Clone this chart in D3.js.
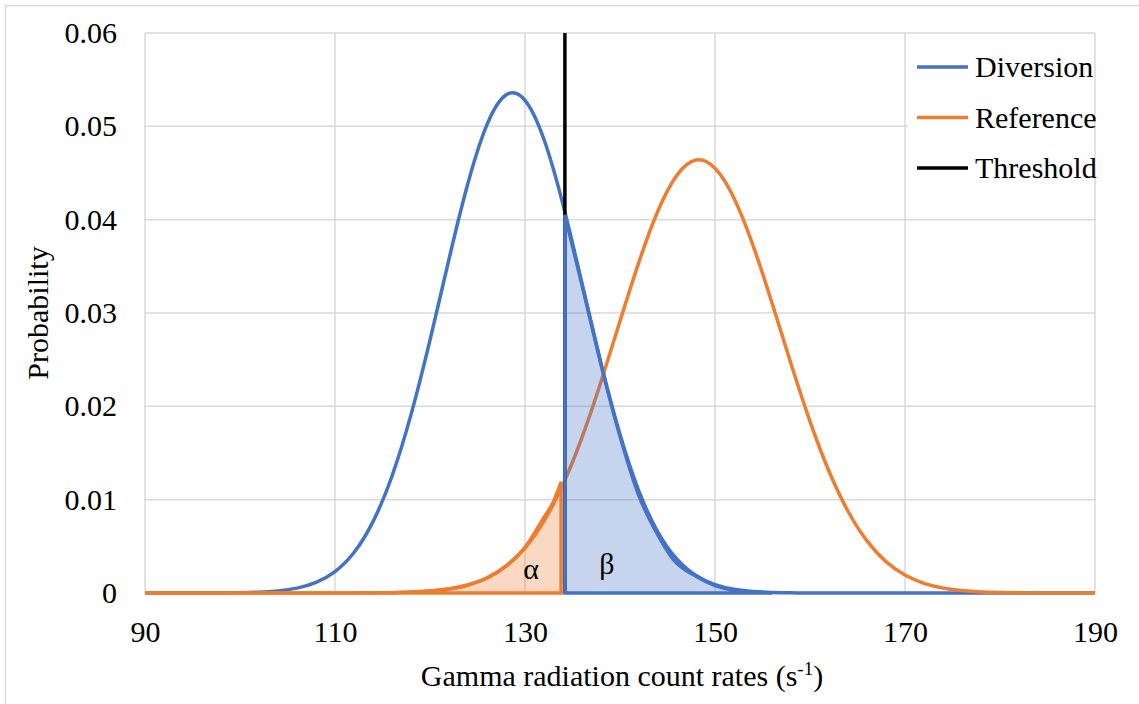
<!DOCTYPE html>
<html>
<head>
<meta charset="utf-8">
<script src="https://cdn.jsdelivr.net/npm/d3@7"></script>
<style>
  html, body { margin: 0; padding: 0; background: #fff; }
  svg { display: block; }
  svg text { font-family: "Liberation Serif", Tinos, "Times New Roman", Times, "DejaVu Serif", "Noto Serif", serif; fill: #000; }
</style>
</head>
<body>
<svg id="chart" width="1139" height="704"></svg>
<script>
// ---------------- data ----------------
const countRates = [90,92,94,96,98,100,102,104,106,108,110,112,114,116,118,120,122,124,126,128,130,132,134,136,138,140,142,144,146,148,150,152,154,156,158,160,162,164,166,168,170,172,174,176,178,180,182,184,186,188,190];
const diversion = [0,0,0.000001,0.000004,0.000012,0.000032,0.000087,0.00022,0.00052,0.00113,0.0023,0.00434,0.00765,0.01253,0.01911,0.0271,0.03577,0.04392,0.05019,0.05336,0.05279,0.04859,0.04162,0.03317,0.02459,0.01697,0.01089,0.00651,0.00362,0.00187,0.0009,0.0004,0.00017,0.000065,0.00002,0,0,0,0,0,0,0,0,0,0,0,0,0,0,0,0];
const reference = [0,0,0,0,0,0,0,0,0,0,0.000002,0.000005,0.000015,0.00004,0.000094,0.000206,0.00043,0.000856,0.00161,0.00286,0.00482,0.0077,0.01164,0.01668,0.02264,0.02913,0.03548,0.04095,0.04477,0.04639,0.0455,0.0423,0.03725,0.03108,0.02456,0.01839,0.01304,0.00876,0.00558,0.00336,0.00192,0.00104,0.00053,0.00026,0.00012,0.000052,0.00002,0.000007,0,0,0];
const threshold = 134.2;
const thresholdRange = [0, 0.06];

const alphaRates  = [90,100,110,116,120,124,126,128,130,132,133,133.8];
const alphaValues = [0,0,0.000002,0.00004,0.00021,0.00086,0.00162,0.0029,0.0049,0.0081,0.0098,0.0119];
const betaRates   = [134.2,136,138,140,142,144,145.6,148,150,152,156];
const betaValues  = [0.0405,0.0330,0.0245,0.0168,0.0104,0.0062,0.0036,0.0018,0.0008,0.0003,0];

const xTicks = [90,110,130,150,170,190];
const yTicks = [0,0.01,0.02,0.03,0.04,0.05,0.06];
const yTickLabels = ["0","0.01","0.02","0.03","0.04","0.05","0.06"];
const seriesNames = ["Diversion","Reference","Threshold"];
const seriesColors = ["#4472C4","#ED7D31","#000000"];
const xTitle = "Gamma radiation count rates (s";
const xTitleSup = "-1";
const yTitle = "Probability";

// ---------------- layout ----------------
const svg = d3.select("#chart");
const W = 1139, H = 704;
const plot = {left: 145, right: 1095, top: 33, bottom: 593};
const x = d3.scaleLinear().domain([90,190]).range([plot.left, plot.right]);
const y = d3.scaleLinear().domain([0,0.06]).range([plot.bottom, plot.top]);
const FS = 30;
const FF = '"Liberation Serif", Tinos, "Times New Roman", Times, "DejaVu Serif", "Noto Serif", serif';

svg.append("rect").attr("x",5.5).attr("y",5.5).attr("width",W+10).attr("height",H+10)
  .attr("fill","#fff").attr("stroke","#d9d9d9").attr("stroke-width",1.5);

// gridlines
const grid = svg.append("g");
grid.selectAll("line.h").data(yTicks).join("line")
  .attr("x1",plot.left).attr("x2",plot.right)
  .attr("y1",d=>y(d)).attr("y2",d=>y(d))
  .attr("stroke","#d9d9d9").attr("stroke-width",1.5);
grid.selectAll("line.v").data(xTicks).join("line")
  .attr("y1",plot.top).attr("y2",plot.bottom)
  .attr("x1",d=>x(d)).attr("x2",d=>x(d))
  .attr("stroke","#d9d9d9").attr("stroke-width",1.5);

// axes labels via d3 axes (no domain / tick lines)
const xAxis = svg.append("g").attr("transform",`translate(0,${plot.bottom})`)
  .call(d3.axisBottom(x).tickValues(xTicks).tickSize(0).tickPadding(28).tickFormat(d3.format("d")));
xAxis.attr("font-family",FF).attr("font-size",FS);
xAxis.select(".domain").remove();
xAxis.selectAll("text").attr("fill","#000");

const yAxis = svg.append("g").attr("transform",`translate(${plot.left},0)`)
  .call(d3.axisLeft(y).tickValues(yTicks).tickSize(0).tickPadding(28).tickFormat((d,i)=>yTickLabels[i]));
yAxis.attr("font-family",FF).attr("font-size",FS);
yAxis.select(".domain").remove();
yAxis.selectAll("text").attr("fill","#000");

// titles
const xt = svg.append("text").attr("x",(plot.left+plot.right)/2+2).attr("y",686)
  .attr("text-anchor","middle").style("font-size",FS+"px");
xt.append("tspan").text(xTitle);
xt.append("tspan").text(xTitleSup).attr("dy",-11).style("font-size","19px");
xt.append("tspan").text(")").attr("dy",11);

svg.append("text").attr("transform","translate(48,313) rotate(-90)")
  .attr("text-anchor","middle").style("font-size",FS+"px").text(yTitle);

// series
const lineGen = (vals) => d3.line()
  .x((d,i)=>x(countRates[i])).y(d=>y(d)).curve(d3.curveNatural)(vals);

svg.append("path").attr("d",lineGen(diversion))
  .attr("fill","none").attr("stroke",seriesColors[0]).attr("stroke-width",3.5);

// alpha area
const alphaData = alphaRates.map((r,i)=>[r,alphaValues[i]]);
svg.append("path")
  .attr("d", d3.area().x(d=>x(d[0])).y0(y(0)).y1(d=>y(d[1])).curve(d3.curveMonotoneX)(alphaData))
  .attr("fill","#ED7D31").attr("fill-opacity",0.3)
  .attr("stroke","#ED7D31").attr("stroke-width",3.5).attr("stroke-linejoin","miter");

svg.append("path").attr("d",lineGen(reference))
  .attr("fill","none").attr("stroke",seriesColors[1]).attr("stroke-width",3.5);

// threshold
svg.append("line").attr("x1",x(threshold)).attr("x2",x(threshold))
  .attr("y1",y(thresholdRange[0])).attr("y2",y(thresholdRange[1]))
  .attr("stroke",seriesColors[2]).attr("stroke-width",3.5);

// beta area
const betaData = betaRates.map((r,i)=>[r,betaValues[i]]);
svg.append("path")
  .attr("d", d3.area().x(d=>x(d[0])).y0(y(0)).y1(d=>y(d[1])).curve(d3.curveMonotoneX)(betaData))
  .attr("fill","#4472C4").attr("fill-opacity",0.3)
  .attr("stroke","#4472C4").attr("stroke-width",3.5);

// greek labels
svg.append("text").attr("x",531).attr("y",579).attr("text-anchor","middle").style("font-size","30px").text("α");
svg.append("text").attr("x",607).attr("y",574).attr("text-anchor","middle").style("font-size","30px").text("β");

// legend
svg.append("rect").attr("x",908).attr("y",45).attr("width",186).attr("height",145).attr("fill","#fff");
const leg = svg.append("g");
seriesNames.forEach((n,i)=>{
  const ly = 67 + i*50.5;
  leg.append("line").attr("x1",917).attr("x2",968).attr("y1",ly).attr("y2",ly)
    .attr("stroke",seriesColors[i]).attr("stroke-width",3.5);
  leg.append("text").attr("x",975).attr("y",ly+10).style("font-size",FS+"px").text(n);
});
</script>
</body>
</html>
